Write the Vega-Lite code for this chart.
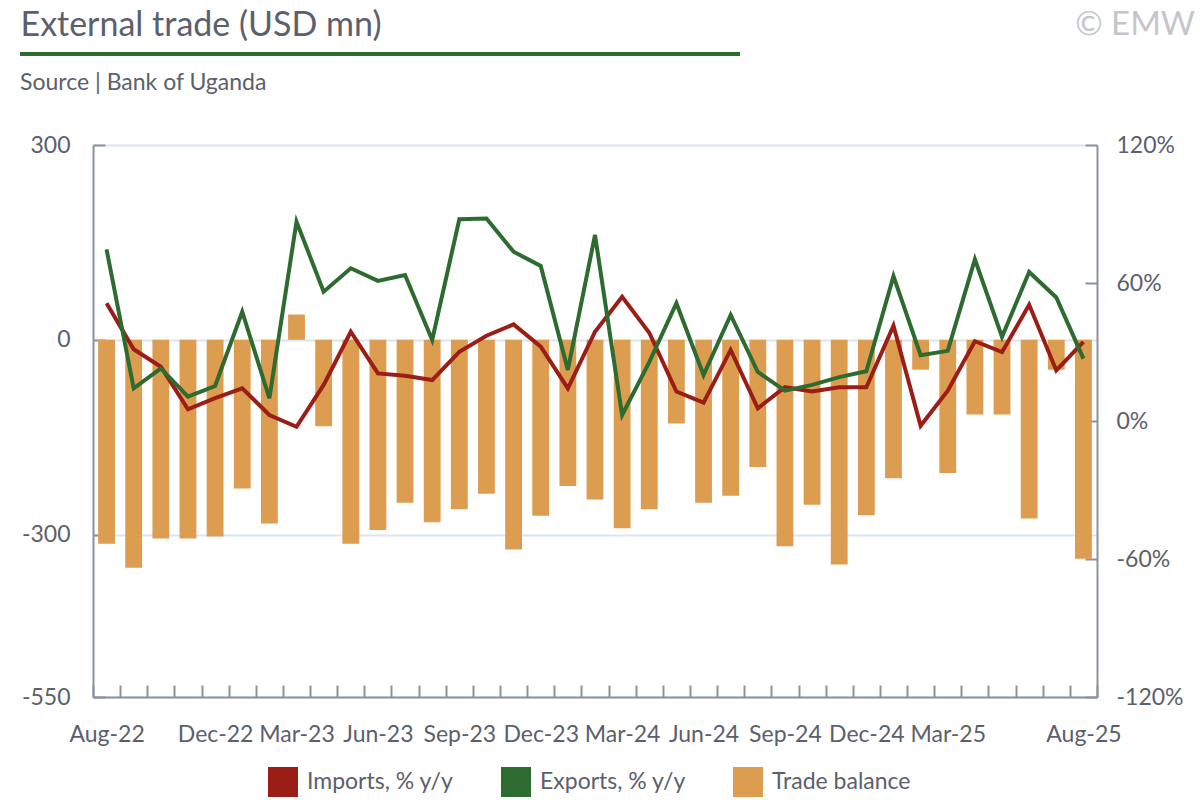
{
  "$schema": "https://vega.github.io/schema/vega-lite/v6.json",
  "background": "white",
  "padding": {"left": 20, "top": 8, "right": 4, "bottom": 2},
  "columns": 1,
  "align": "none",
  "spacing": -55,
  "resolve": {"legend": {"color": "independent"}},
  "config": {
    "font": "Lato",
    "view": {"stroke": null},
    "axis": {
      "labelFont": "Lato",
      "labelFontSize": 23,
      "labelColor": "#5b606c",
      "domainColor": "#8c919c",
      "tickColor": "#8c919c",
      "domainWidth": 2,
      "tickWidth": 2,
      "titleFont": "Lato"
    },
    "title": {"font": "Lato", "fontWeight": "normal", "color": "#5b606c"}
  },
  "concat": [
    {
      "width": 720,
      "height": 4,
      "data": {"values": [{"k": "a", "v": 0}]},
      "mark": {"type": "point", "opacity": 0},
      "encoding": {
        "x": {
          "field": "k",
          "type": "nominal",
          "axis": {
            "orient": "top",
            "title": "© EMW",
            "labels": false,
            "ticks": false,
            "grid": false,
            "domain": true,
            "domainColor": "#2e6b30",
            "domainWidth": 4,
            "domainCap": "butt",
            "translate": -73,
            "offset": -75,
            "titleX": 1175,
            "titleY": -19,
            "titleAlign": "right",
            "titleAnchor": null,
            "titleAngle": 0,
            "titleBaseline": "alphabetic",
            "titleFontSize": 33,
            "titleColor": "#c4c6cb",
            "titleFontWeight": "normal",
            "titlePadding": 0
          }
        },
        "y": {
          "field": "v",
          "type": "quantitative",
          "axis": {
            "orient": "left",
            "title": "External trade (USD mn)",
            "labels": false,
            "ticks": false,
            "domain": false,
            "grid": false,
            "titleX": -73,
            "titleY": -17,
            "titleAlign": "left",
            "titleAnchor": null,
            "titleAngle": 0,
            "titleBaseline": "alphabetic",
            "titleFontSize": 34,
            "titleColor": "#5b606c",
            "titleFontWeight": "normal",
            "titlePadding": 0
          }
        }
      }
    },
    {
      "width": 1004,
      "height": 552,
      "title": {"text": "Source | Bank of Uganda", "anchor": "start", "frame": "group", "dx": -73, "fontSize": 23, "color": "#5b606c", "offset": 39},
      "data": {
        "values": [
          {"month": "Aug-22", "Imports, % y/y": 51.2, "Exports, % y/y": 74.6, "Trade balance": -314},
          {"month": "Sep-22", "Imports, % y/y": 31.2, "Exports, % y/y": 14.2, "Trade balance": -351},
          {"month": "Oct-22", "Imports, % y/y": 23.6, "Exports, % y/y": 22.9, "Trade balance": -306},
          {"month": "Nov-22", "Imports, % y/y": 5.1, "Exports, % y/y": 10.6, "Trade balance": -306},
          {"month": "Dec-22", "Imports, % y/y": 9.9, "Exports, % y/y": 15.2, "Trade balance": -303},
          {"month": "Jan-23", "Imports, % y/y": 14.2, "Exports, % y/y": 47.5, "Trade balance": -229},
          {"month": "Feb-23", "Imports, % y/y": 2.6, "Exports, % y/y": 9.9, "Trade balance": -283},
          {"month": "Mar-23", "Imports, % y/y": -2.5, "Exports, % y/y": 86.7, "Trade balance": 39},
          {"month": "Apr-23", "Imports, % y/y": 15.7, "Exports, % y/y": 56.2, "Trade balance": -133},
          {"month": "May-23", "Imports, % y/y": 38.8, "Exports, % y/y": 66.4, "Trade balance": -314},
          {"month": "Jun-23", "Imports, % y/y": 20.7, "Exports, % y/y": 60.9, "Trade balance": -293},
          {"month": "Jul-23", "Imports, % y/y": 19.7, "Exports, % y/y": 63.5, "Trade balance": -251},
          {"month": "Aug-23", "Imports, % y/y": 17.8, "Exports, % y/y": 35.2, "Trade balance": -281},
          {"month": "Sep-23", "Imports, % y/y": 30.1, "Exports, % y/y": 87.7, "Trade balance": -261},
          {"month": "Oct-23", "Imports, % y/y": 37.1, "Exports, % y/y": 88.0, "Trade balance": -237},
          {"month": "Nov-23", "Imports, % y/y": 42.0, "Exports, % y/y": 73.6, "Trade balance": -323},
          {"month": "Dec-23", "Imports, % y/y": 32.3, "Exports, % y/y": 67.4, "Trade balance": -271},
          {"month": "Jan-24", "Imports, % y/y": 14.2, "Exports, % y/y": 22.2, "Trade balance": -225},
          {"month": "Feb-24", "Imports, % y/y": 38.8, "Exports, % y/y": 80.9, "Trade balance": -246},
          {"month": "Mar-24", "Imports, % y/y": 54.0, "Exports, % y/y": 2.6, "Trade balance": -290},
          {"month": "Apr-24", "Imports, % y/y": 38.4, "Exports, % y/y": 25.6, "Trade balance": -261},
          {"month": "May-24", "Imports, % y/y": 12.8, "Exports, % y/y": 51.2, "Trade balance": -129},
          {"month": "Jun-24", "Imports, % y/y": 8.0, "Exports, % y/y": 20.0, "Trade balance": -251},
          {"month": "Jul-24", "Imports, % y/y": 30.9, "Exports, % y/y": 46.1, "Trade balance": -240},
          {"month": "Aug-24", "Imports, % y/y": 5.5, "Exports, % y/y": 21.3, "Trade balance": -196},
          {"month": "Sep-24", "Imports, % y/y": 14.7, "Exports, % y/y": 13.2, "Trade balance": -318},
          {"month": "Oct-24", "Imports, % y/y": 12.8, "Exports, % y/y": 15.7, "Trade balance": -254},
          {"month": "Nov-24", "Imports, % y/y": 14.7, "Exports, % y/y": 19.1, "Trade balance": -346},
          {"month": "Dec-24", "Imports, % y/y": 14.7, "Exports, % y/y": 21.6, "Trade balance": -270},
          {"month": "Jan-25", "Imports, % y/y": 41.4, "Exports, % y/y": 63.0, "Trade balance": -213},
          {"month": "Feb-25", "Imports, % y/y": -2.1, "Exports, % y/y": 28.6, "Trade balance": -46},
          {"month": "Mar-25", "Imports, % y/y": 13.2, "Exports, % y/y": 30.5, "Trade balance": -205},
          {"month": "Apr-25", "Imports, % y/y": 34.7, "Exports, % y/y": 70.3, "Trade balance": -115},
          {"month": "May-25", "Imports, % y/y": 30.0, "Exports, % y/y": 36.6, "Trade balance": -115},
          {"month": "Jun-25", "Imports, % y/y": 50.5, "Exports, % y/y": 64.8, "Trade balance": -275},
          {"month": "Jul-25", "Imports, % y/y": 22.0, "Exports, % y/y": 53.7, "Trade balance": -46},
          {"month": "Aug-25", "Imports, % y/y": 34.4, "Exports, % y/y": 27.1, "Trade balance": -337}
        ]
      },
      "encoding": {
        "x": {
          "field": "month",
          "type": "ordinal",
          "sort": null,
          "scale": {"paddingInner": 0, "paddingOuter": 0},
          "axis": {
            "title": null,
            "tickBand": "extent",
            "tickSize": -12,
            "labelPadding": 38,
            "labelAngle": 0,
            "labelOverlap": false,
            "grid": false,
            "labelExpr": "(datum.value == 'Aug-22' || datum.value == 'Dec-22' || datum.value == 'Mar-23' || datum.value == 'Jun-23' || datum.value == 'Sep-23' || datum.value == 'Dec-23' || datum.value == 'Mar-24' || datum.value == 'Jun-24' || datum.value == 'Sep-24' || datum.value == 'Dec-24' || datum.value == 'Mar-25' || datum.value == 'Aug-25') ? datum.value : ''"
          }
        }
      },
      "layer": [
        {
          "transform": [{"fold": ["Trade balance"], "as": ["series", "value"]}],
          "mark": {"type": "bar", "width": {"band": 0.62}},
          "encoding": {
            "y": {
              "field": "value",
              "type": "quantitative",
              "scale": {"domain": [-550, 300], "nice": false, "zero": false},
              "axis": {
                "title": null,
                "values": [300, 0, -300, -550],
                "labelExpr": "'' + datum.value",
                "grid": true,
                "gridColor": "#dbe5f1",
                "gridWidth": 2,
                "tickSize": -12,
                "labelPadding": 35
              }
            },
            "color": {
              "field": "series",
              "type": "nominal",
              "scale": {"domain": ["Imports, % y/y", "Exports, % y/y", "Trade balance"], "range": ["#9b1e16", "#2e6b30", "#dc9d50"]},
              "legend": {
                "title": null,
                "orient": "none",
                "legendX": 175,
                "legendY": 622,
                "direction": "horizontal",
                "symbolType": "square",
                "symbolSize": 900,
                "symbolStrokeWidth": 0,
                "symbolOpacity": 1,
                "labelFont": "Lato",
                "labelFontSize": 23,
                "labelColor": "#5b606c",
                "columnPadding": 47,
                "labelOffset": 9
              }
            }
          }
        },
        {
          "transform": [{"fold": ["Imports, % y/y", "Exports, % y/y"], "as": ["series", "value"]}],
          "mark": {"type": "line", "strokeWidth": 4},
          "encoding": {
            "y": {
              "field": "value",
              "type": "quantitative",
              "scale": {"domain": [-120, 120], "nice": false, "zero": false},
              "axis": {
                "title": null,
                "orient": "right",
                "values": [120, 60, 0, -60, -120],
                "labelExpr": "'' + datum.value + '%'",
                "grid": false,
                "tickSize": -12,
                "labelPadding": 31
              }
            },
            "stroke": {
              "field": "series",
              "type": "nominal",
              "scale": {"domain": ["Imports, % y/y", "Exports, % y/y", "Trade balance"], "range": ["#9b1e16", "#2e6b30", "#dc9d50"]},
              "legend": null
            }
          }
        }
      ],
      "resolve": {"scale": {"y": "independent"}}
    }
  ]
}
